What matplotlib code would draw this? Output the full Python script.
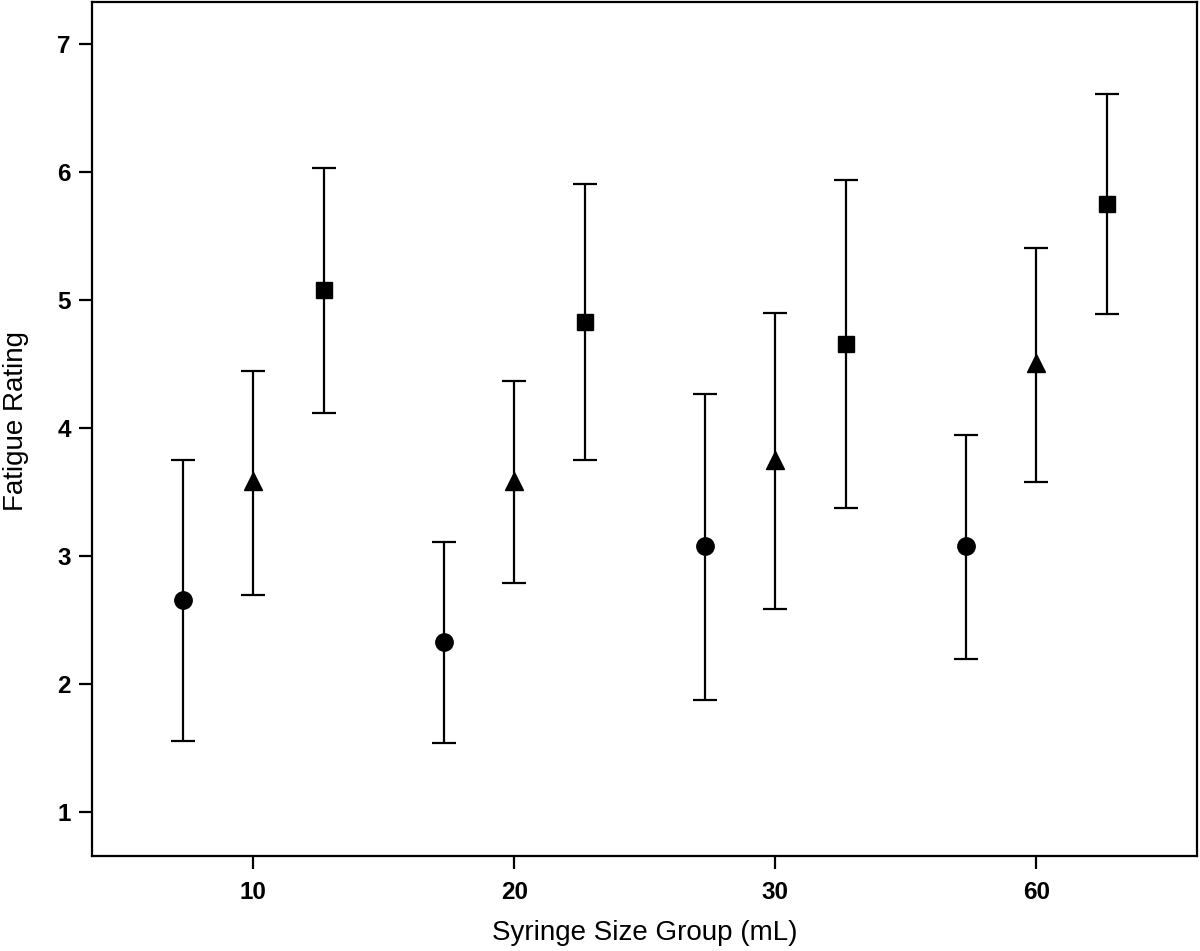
import matplotlib
matplotlib.use("Agg")
import matplotlib.pyplot as plt
import numpy as np

plt.rcParams['font.family'] = ['Liberation Sans', 'DejaVu Sans']

groups = ["10", "20", "30", "60"]
# series: circle, triangle, square
circle_mean = [2.66, 2.33, 3.08, 3.08]
circle_upper = [3.75, 3.11, 4.27, 3.95]
circle_lower = [1.56, 1.54, 1.88, 2.20]

triangle_mean = [3.59, 3.59, 3.75, 4.51]
triangle_upper = [4.45, 4.37, 4.90, 5.41]
triangle_lower = [2.70, 2.79, 2.59, 3.58]

square_mean = [5.08, 4.83, 4.66, 5.75]
square_upper = [6.03, 5.91, 5.94, 6.61]
square_lower = [4.12, 3.75, 3.38, 4.89]

yticks = [1, 2, 3, 4, 5, 6, 7]

fig = plt.figure(figsize=(12, 9.51), dpi=100)
ax = fig.add_axes([0.0769, 0.0996, 0.9204, 0.8983])

x = np.arange(1, len(groups) + 1)
offset = 0.27
series = [
    (x - offset, circle_mean, circle_lower, circle_upper, 'o', 12.5),
    (x, triangle_mean, triangle_lower, triangle_upper, '^', 13),
    (x + offset, square_mean, square_lower, square_upper, 's', 11.5),
]
for xs, m, lo, hi, mk, ms in series:
    m = np.array(m); lo = np.array(lo); hi = np.array(hi)
    ax.errorbar(xs, m, yerr=[m - lo, hi - m], fmt=mk, color='black',
                ms=ms, ecolor='black', elinewidth=1.6, capsize=8.5,
                capthick=1.6, zorder=3)

ax.set_xlim(0.383, 4.615)
ax.set_ylim(0.656, 7.33)
ax.set_xticks(x)
ax.set_xticklabels(groups)
ax.set_yticks(yticks)
ax.set_yticklabels([str(t) for t in yticks])

for lab in ax.get_xticklabels() + ax.get_yticklabels():
    lab.set_fontweight('bold')
    lab.set_fontsize(17.5)

ax.tick_params(axis='both', direction='out', length=9.5, width=1.6, pad=8)
ax.tick_params(axis='y', pad=6)
for sp in ax.spines.values():
    sp.set_linewidth(1.6)

ax.set_xlabel("Syringe Size Group (mL)", fontsize=20, labelpad=12)
ax.set_ylabel("Fatigue Rating", fontsize=20)
ax.yaxis.set_label_coords(-0.057, 0.51)

fig.savefig("out.png", dpi=100)
